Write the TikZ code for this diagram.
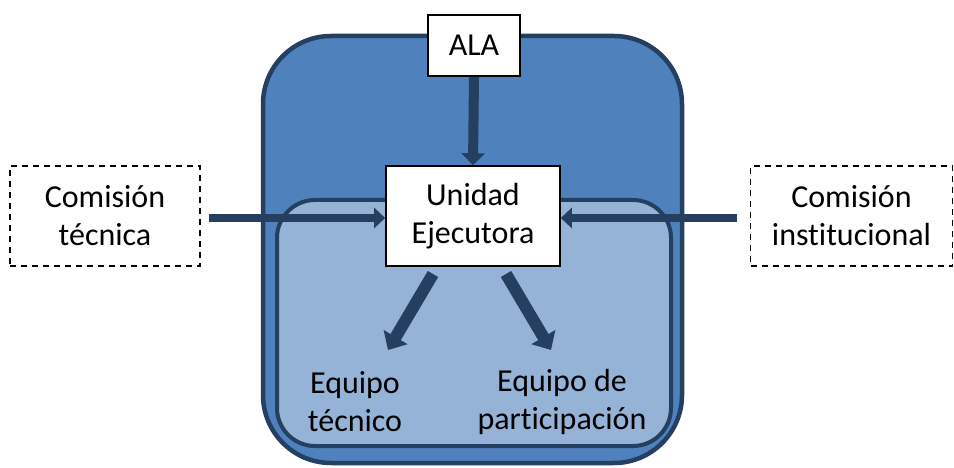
\documentclass[tikz,border=0pt]{standalone}
\usepackage{fontspec}
\setmainfont{Carlito}[Ligatures={NoCommon,NoRare}]
\usetikzlibrary{arrows.meta}
\definecolor{outerfill}{HTML}{4F81BD}
\definecolor{innerfill}{HTML}{95B3D7}
\definecolor{navy}{HTML}{243F60}
\tikzset{
  lbl/.style={font=\fontsize{32}{38}\selectfont, align=center, inner sep=0pt},
  whitebox/.style={lbl, draw=black, fill=white, line width=1.6pt},
  dashbox/.style={lbl, draw=black, line width=1.4pt, dash pattern=on 6pt off 5pt},
  bigarrow/.style={draw=navy, line width=10pt, -{Triangle[width=23pt,length=12pt]}},
  sidearrow/.style={draw=navy, line width=8pt, -{Triangle[width=20pt,length=11pt]}},
  diagarrow/.style={draw=navy, line width=12pt, -{Triangle[width=27pt,length=15pt]}},
}
\begin{document}
\begin{tikzpicture}[x=1pt,y=-1pt]
\useasboundingbox (0,0) rectangle (954,468);
% containers
\draw[navy, line width=4.5pt, fill=outerfill, rounded corners=68pt] (263,36) rectangle (682,463);
\draw[navy, line width=4pt, fill=innerfill, rounded corners=38pt] (277,200) rectangle (671,446);
% boxes
\node[whitebox, minimum width=92pt, minimum height=61pt] (ala) at (474,45.5) {ALA};
\node[whitebox, minimum width=174pt, minimum height=100pt] (ue) at (473,216) {Unidad\\Ejecutora};
\node[dashbox, minimum width=190pt, minimum height=100pt] (ct) at (105,216) {Comisión\\técnica};
\node[dashbox, minimum width=202pt, minimum height=100pt] (ci) at (851.5,216) {Comisión\\institucional};
\node[lbl] (et) at (355,402) {Equipo\\técnico};
\node[lbl] (ep) at (562,402) {Equipo de\\participación};
% connectors
\draw[bigarrow] (ala.south) -- (ue.north);
\draw[sidearrow] ([xshift=8pt]ct.east |- 0,218) -- (ue.west |- 0,218);
\draw[sidearrow] ([xshift=-13pt]ci.west |- 0,218) -- (ue.east |- 0,218);
\coordinate (d1s) at (433,274);
\coordinate (d2s) at (506,274);
\coordinate (d1e) at (388,350);
\coordinate (d2e) at (551,350);
\draw[diagarrow] (d1s) -- (d1e);
\draw[diagarrow] (d2s) -- (d2e);
\end{tikzpicture}
\end{document}
